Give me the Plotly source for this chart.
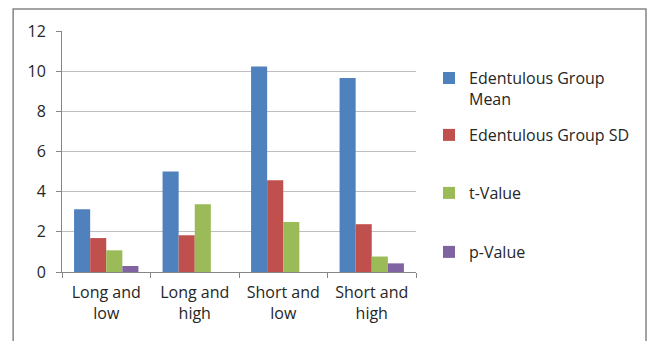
import plotly.graph_objects as go

categories = ["Long and<br>low", "Long and<br>high", "Short and<br>low", "Short and<br>high"]
series_names = ["Edentulous Group<br>Mean", "Edentulous Group SD", "t-Value", "p-Value"]
mean_vals = [3.12, 5.01, 10.23, 9.66]
sd_vals = [1.69, 1.83, 4.57, 2.38]
t_vals = [1.08, 3.37, 2.49, 0.77]
p_vals = [0.30, 0.0, 0.0, 0.43]
colors = ["#4F81BD", "#C0504D", "#9BBB59", "#8064A2"]
y_ticks = [0, 2, 4, 6, 8, 10, 12]

FONT = "Open Sans"
TXT = "#262626"
FS = 16

legend_ids = ["legend", "legend2", "legend3", "legend4"]
legend_y = [0.761, 0.5685, 0.3278, 0.083]

fig = go.Figure()
for i, (name, vals) in enumerate(zip(series_names, [mean_vals, sd_vals, t_vals, p_vals])):
    fig.add_trace(go.Bar(
        x=categories, y=vals, name=name, marker_color=colors[i],
        marker_line_width=0, legend=legend_ids[i],
    ))

legend_common = dict(
    x=1.0367, xanchor="left", yanchor="middle",
    font=dict(family=FONT, size=FS, color=TXT),
    itemwidth=30, bgcolor="rgba(0,0,0,0)", borderwidth=0, valign="top",
)
legends = {lid: dict(legend_common, y=ly) for lid, ly in zip(legend_ids, legend_y)}

fig.update_layout(
    width=650, height=341,
    margin=dict(l=62, r=234, t=31, b=69, autoexpand=False),
    paper_bgcolor="white", plot_bgcolor="white",
    barmode="group", bargap=0.2727, bargroupgap=0,
    font=dict(family=FONT, size=FS, color=TXT),
    showlegend=True,
    **legends,
    shapes=[dict(
        type="rect", xref="paper", yref="paper",
        x0=-0.138, x1=1.6497, y0=-0.32, y1=1.091,
        line=dict(color="#868686", width=1.5), fillcolor="rgba(0,0,0,0)", layer="below",
    )],
)
fig.update_xaxes(
    showline=True, linecolor="#868686", linewidth=1,
    ticks="outside", tickson="boundaries", ticklen=5, tickcolor="#868686",
    showgrid=False, tickfont=dict(family=FONT, size=FS, color=TXT),
    ticklabelstandoff=6,
)
fig.update_yaxes(
    range=[0, 12], tickvals=y_ticks, showline=True, linecolor="#868686", linewidth=1,
    ticks="outside", ticklen=5, tickcolor="#868686",
    showgrid=True, gridcolor="#BFBFBF", gridwidth=1, zeroline=False,
    tickfont=dict(family=FONT, size=FS, color=TXT),
    ticklabelstandoff=7,
)

fig.write_html(
    "out.html",
    config={"displayModeBar": False},
    post_script="document.body.style.margin='0';document.body.style.overflow='hidden';",
)
